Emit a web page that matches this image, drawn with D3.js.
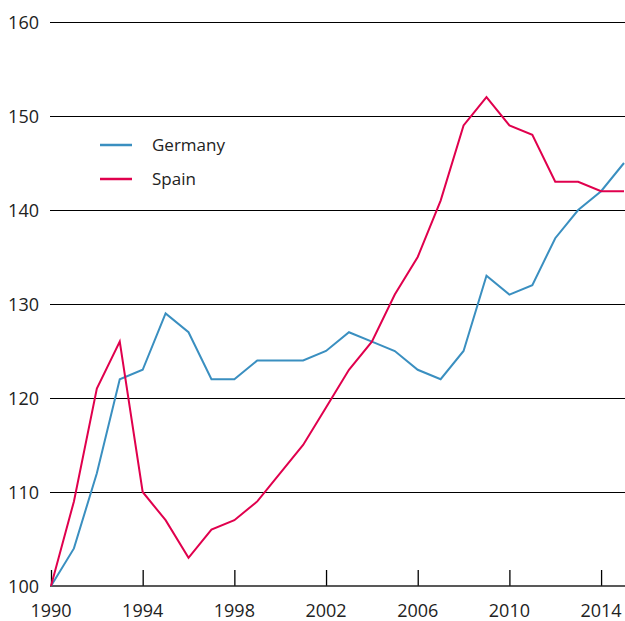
<!DOCTYPE html>
<html>
<head>
<meta charset="utf-8">
<script src="https://cdn.jsdelivr.net/npm/d3@7"></script>
<style>
  body { margin: 0; background: #fff; }
  text { font-family: "Open Sans", sans-serif; }
</style>
</head>
<body>
<svg id="chart" width="625" height="621"></svg>
<script>
var years = d3.range(1990, 2016);
var germany = [100, 104, 112, 122, 123, 129, 127, 122, 122, 124, 124, 124, 125,
               127, 126, 125, 123, 122, 125, 133, 131, 132, 137, 140, 142, 145];
var spain = [100, 109, 121, 126, 110, 107, 103, 106, 107, 109, 112, 115, 119,
             123, 126, 131, 135, 141, 149, 152, 149, 148, 143, 143, 142, 142];
var yTicks = [100, 110, 120, 130, 140, 150, 160];
var xTicks = [1990, 1994, 1998, 2002, 2006, 2010, 2014];
var seriesNames = ["Germany", "Spain"];
var seriesColors = ["#3a8fc0", "#e0004d"];

var svg = d3.select("#chart");
var x = d3.scaleLinear().domain([1990, 2015]).range([51, 624]);
var y = d3.scaleLinear().domain([100, 160]).range([586, 22]);

// gridlines (snapped to pixel for crisp lines)
svg.append("g").selectAll("line")
  .data(yTicks.slice(1))
  .enter().append("line")
  .attr("x1", 50).attr("x2", 625)
  .attr("y1", function(d) { return Math.round(y(d)) + 0.5; })
  .attr("y2", function(d) { return Math.round(y(d)) + 0.5; })
  .attr("stroke", "#000").attr("stroke-width", 1);

// y labels
svg.append("g").selectAll("text")
  .data(yTicks)
  .enter().append("text")
  .attr("x", 39)
  .attr("y", function(d) { return y(d) + 6.5; })
  .attr("text-anchor", "end")
  .attr("font-size", "18px")
  .attr("fill", "#222")
  .text(function(d) { return d; });

// x axis
var xAxis = d3.axisTop(x).tickValues(xTicks).tickSize(16).tickFormat("");
var ax = svg.append("g").attr("transform", "translate(0," + y(100) + ")").call(xAxis);
ax.select(".domain").remove();
ax.selectAll(".tick line").attr("stroke", "#000").attr("stroke-width", 1.3);
svg.append("line")
  .attr("x1", 50).attr("x2", 625)
  .attr("y1", y(100)).attr("y2", y(100))
  .attr("stroke", "#222").attr("stroke-width", 1.5);

svg.append("g").selectAll("text")
  .data(xTicks)
  .enter().append("text")
  .attr("x", function(d) { return x(d); })
  .attr("y", 617)
  .attr("text-anchor", "middle")
  .attr("font-size", "18px")
  .attr("fill", "#222")
  .text(function(d) { return d; });

// lines
var line = d3.line()
  .x(function(d, i) { return x(years[i]); })
  .y(function(d) { return y(d); });

[germany, spain].forEach(function(s, k) {
  svg.append("path")
    .datum(s)
    .attr("d", line)
    .attr("fill", "none")
    .attr("stroke", seriesColors[k])
    .attr("stroke-width", 2)
    .attr("stroke-linejoin", "miter");
});

// legend
var lg = svg.append("g").selectAll("g")
  .data(seriesNames)
  .enter().append("g")
  .attr("transform", function(d, i) { return "translate(100," + (145 + i * 34) + ")"; });
lg.append("line")
  .attr("x1", 0).attr("x2", 32)
  .attr("stroke", function(d, i) { return seriesColors[i]; })
  .attr("stroke-width", 2.5);
lg.append("text")
  .attr("x", 52).attr("y", 6)
  .attr("font-size", "17px")
  .attr("fill", "#222")
  .text(function(d) { return d; });
</script>
</body>
</html>
